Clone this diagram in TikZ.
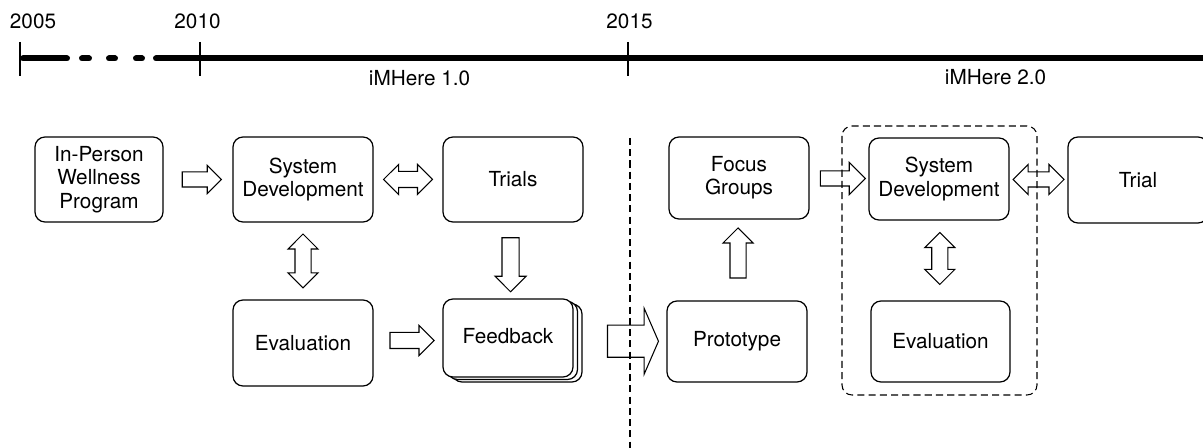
\documentclass[tikz,border=0pt]{standalone}
\usepackage{fontspec}
\setmainfont{TeX Gyre Heros}
\usetikzlibrary{shapes.arrows,calc}
\newcommand\PX[1]{#1*0.02cm}
\begin{document}
\begin{tikzpicture}[x=0.02cm,y=-0.02cm,
  font=\fontsize{11.8}{13.3}\selectfont,
  box/.style={draw, rounded corners=0.2cm, line width=0.7pt, align=center, inner sep=0pt, fill=white},
  sarr/.style={single arrow, draw, fill=white, line width=0.6pt, inner xsep=0pt, text height=0pt, text depth=0pt, single arrow tip angle=90},
  darr/.style={double arrow, draw, fill=white, line width=0.6pt, inner xsep=0pt, text height=0pt, text depth=0pt, double arrow tip angle=90},
  tl/.style={line width=0.12cm, line cap=round},
  tickmark/.style={line width=1.1pt},
  yearlabel/.style={anchor=base, inner sep=0pt},
  sepline/.style={line width=0.6pt, dash pattern=on 4pt off 2.4pt},
]
\clip (0,0) rectangle (1203,448);
\fill[white] (0,0) rectangle (1203,448);

% timeline
\draw[tl] (23,58.5) -- (67,58.5);
\draw[tl] (82,58.5) -- (89,58.5);
\draw[tl] (109,58.5) -- (115,58.5);
\draw[tl] (136,58.5) -- (142,58.5);
\draw[tl] (156,58.5) -- (1215,58.5);
\draw[tickmark] (20,42) -- (20,76);
\draw[tickmark] (200,42) -- (200,76);
\draw[tickmark] (628,42) -- (628,76);
\node[yearlabel] (y2005) at (33,29) {2005};
\node[yearlabel] (y2010) at (197.5,29) {2010};
\node[yearlabel] (y2015) at (629.5,29) {2015};
\node[yearlabel] (v1) at (419.5,86) {iMHere 1.0};
\node[yearlabel] (v2) at (995.5,84.5) {iMHere 2.0};

% boxes
\node[box, minimum width=\PX{128}, minimum height=\PX{85}] (inperson) at (99,179.5) {In-Person\\Wellness\\Program};
\node[box, minimum width=\PX{140}, minimum height=\PX{85}] (sysdev) at (303,179.5) {System\\Development};
\node[box, minimum width=\PX{140}, minimum height=\PX{85}] (trials) at (513,179.5) {Trials};
\node[box, minimum width=\PX{140}, minimum height=\PX{86}] (eval) at (303,343) {Evaluation};
\node[box, minimum width=\PX{130}, minimum height=\PX{78}] (fb3) at (517,343) {};
\node[box, minimum width=\PX{130}, minimum height=\PX{78}] (fb2) at (512.5,340.5) {};
\node[box, minimum width=\PX{130}, minimum height=\PX{78}] (feedback) at (508,338) {\raisebox{2pt}{Feedback}};
\node[box, minimum width=\PX{140}, minimum height=\PX{82}] (focus) at (739,178) {Focus\\Groups};
\node[box, minimum width=\PX{140}, minimum height=\PX{81}] (prototype) at (737,341.5) {Prototype};
\node[box, minimum width=\PX{140}, minimum height=\PX{82}] (sysdev2) at (939,179) {System\\Development};
\node[box, minimum width=\PX{139}, minimum height=\PX{81}] (eval2) at (940.5,341.5) {Evaluation};
\node[box, minimum width=\PX{140}, minimum height=\PX{86}] (trial) at (1138,180) {Trial};

% block arrows
\node[sarr, minimum height=0.78cm, inner ysep=0.14cm, single arrow head extend=0.13cm]
  (a1) at ($(inperson.east)!0.5!(sysdev.west)$) {};
\node[darr, minimum height=0.98cm, inner ysep=0.15cm, double arrow head extend=0.14cm]
  (a2) at ($(sysdev.east)!0.5!(trials.west)$) {};
\node[darr, rotate=90, minimum height=1.08cm, inner ysep=0.15cm, double arrow head extend=0.14cm]
  (a3) at ($(sysdev.south)!0.5!(eval.north)$) {};
\node[sarr, rotate=-90, minimum height=1.08cm, inner ysep=0.16cm, single arrow head extend=0.14cm]
  (a4) at ($(trials.south)!0.5!(feedback.north)$) {};
\node[sarr, minimum height=0.88cm, inner ysep=0.15cm, single arrow head extend=0.14cm]
  (a5) at ($(eval.east)!0.5!(feedback.west)$) {};
\node[sarr, minimum height=1.02cm, inner ysep=0.31cm, single arrow head extend=0.34cm, single arrow tip angle=133]
  (a6) at ($(fb3.east)!0.5!(prototype.west)+(5,-1)$) {};
\node[sarr, rotate=90, minimum height=1.0cm, inner ysep=0.15cm, single arrow head extend=0.14cm]
  (a7) at ($(prototype.north)!0.5!(focus.south)+(0,-3)$) {};
\node[sarr, minimum height=0.9cm, inner ysep=0.14cm, single arrow head extend=0.17cm]
  (a8) at ($(focus.east)!0.5!(sysdev2.west)$) {};
\node[darr, minimum height=1.02cm, inner ysep=0.14cm, double arrow head extend=0.15cm]
  (a9) at ($(sysdev2.east)!0.5!(trial.west)$) {};
\node[darr, rotate=90, minimum height=1.04cm, inner ysep=0.15cm, double arrow head extend=0.14cm]
  (a10) at ($(sysdev2.south)!0.5!(eval2.north)+(0,-2)$) {};

% dashed separators
\draw[sepline, rounded corners=0.2cm] (842,126) rectangle (1037,395);
\draw[sepline] (630,138) -- (630,448);
\end{tikzpicture}
\end{document}
